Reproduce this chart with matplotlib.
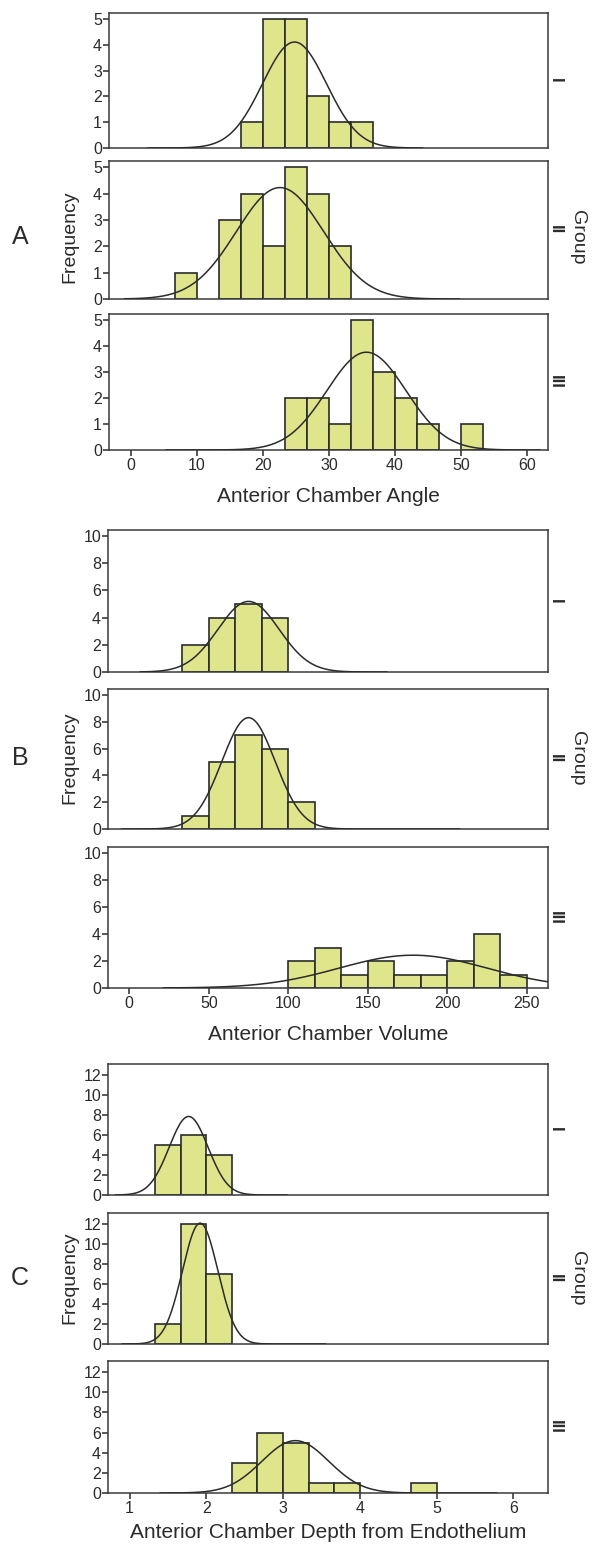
import numpy as np
import matplotlib
matplotlib.use("Agg")
import matplotlib.pyplot as plt

plt.rcParams['font.family'] = ['Liberation Sans', 'DejaVu Sans']

##############################################################################
## data (histogram bins + fitted normal curves)
group_names = ['I', 'II', 'III']

# A: anterior chamber angle, bin width 10/3
angle_bw = 10.0 / 3
angle_start = [50.0 / 3, 20.0 / 3, 70.0 / 3]
angle_counts = [[1, 5, 5, 2, 1, 1],
                [1, 0, 3, 4, 2, 5, 4, 2],
                [2, 2, 1, 5, 3, 2, 1, 0, 1]]
angle_mean = [24.8, 22.6, 35.7]
angle_sd = [4.85, 6.6, 6.0]
angle_curve = [(2.6, 44.2), (-0.9, 49.8), (5.4, 62.0)]

# B: anterior chamber volume, bin width 50/3
vol_bw = 50.0 / 3
vol_start = [100.0 / 3, 100.0 / 3, 100.0]
vol_counts = [[2, 4, 5, 4],
              [1, 5, 7, 6, 2],
              [2, 3, 1, 2, 1, 1, 2, 4, 1]]
vol_mean = [75.0, 75.0, 178.5]
vol_sd = [19.2, 16.8, 46.5]
vol_curve = [(6.9, 162.0), (-4.6, 208.0), (21.6, 275.0)]

# C: anterior chamber depth from endothelium, bin width 1/3
dep_bw = 1.0 / 3
dep_start = [4.0 / 3, 4.0 / 3, 7.0 / 3]
dep_counts = [[5, 6, 4],
              [2, 12, 7],
              [3, 6, 5, 1, 1, 0, 0, 1]]
dep_mean = [1.77, 1.92, 3.16]
dep_sd = [0.254, 0.231, 0.435]
dep_curve = [(0.82, 3.05), (0.905, 3.55), (1.40, 5.78)]

##############################################################################
W, H = 603, 1546
fig = plt.figure(figsize=(W / 100.0, H / 100.0), dpi=100)

barcol = '#dee58b'
ink = '#2b2b2b'


def rect(left, top, right, bottom):
    return [left / W, 1 - bottom / H, (right - left) / W, (bottom - top) / H]


def hist_panel(box, counts, start, bw, mean, sd, crange, xlim, ylim, yticks,
               xticks, numeral):
    ax = fig.add_axes(rect(*box))
    counts = np.asarray(counts, dtype=float)
    edges = start + bw * np.arange(len(counts))
    keep = counts > 0
    ax.bar(edges[keep], counts[keep], width=bw, align='edge', color=barcol,
           edgecolor=ink, linewidth=1.2, zorder=2)
    n = counts.sum()
    xp = np.linspace(crange[0], crange[1], 400)
    yp = n * bw / (sd * np.sqrt(2 * np.pi)) * np.exp(-0.5 * ((xp - mean) / sd) ** 2)
    ax.plot(xp, yp, color=ink, lw=1.1, zorder=3, clip_on=True)
    ax.set_xlim(*xlim)
    ax.set_ylim(*ylim)
    ax.set_yticks(yticks)
    for s in ax.spines.values():
        s.set_color('#3a3a3a')
        s.set_linewidth(1.1)
    ax.tick_params(axis='y', direction='out', length=4, width=1.1,
                   color=ink, labelsize=11.5, labelcolor=ink, pad=1)
    if xticks is None:
        ax.set_xticks([])
    else:
        ax.set_xticks(xticks)
        ax.tick_params(axis='x', direction='out', length=4, width=1.1,
                       color=ink, labelsize=11.5, labelcolor=ink, pad=2)
    # group numeral, rotated like the "Group" label
    yc = 1 - ((box[1] + box[3]) / 2) / H
    fig.text((box[2] + 7) / W, yc, numeral, rotation=270, ha='center',
             va='center', fontsize=12, fontweight='bold', color=ink)
    return ax


##############################################################################
## A
a_boxes = [(109, 13, 548, 148), (109, 161, 548, 299), (109, 314, 548, 450)]
for i in range(3):
    hist_panel(a_boxes[i], angle_counts[i], angle_start[i], angle_bw,
               angle_mean[i], angle_sd[i], angle_curve[i], (-3.3, 63.2),
               (0, 5.24), range(0, 6), [0, 10, 20, 30, 40, 50, 60] if i == 2 else None,
               group_names[i])

## B
b_boxes = [(108, 530, 548, 672), (108, 689, 548, 829), (108, 847, 548, 988)]
for i in range(3):
    hist_panel(b_boxes[i], vol_counts[i], vol_start[i], vol_bw,
               vol_mean[i], vol_sd[i], vol_curve[i], (-13.4, 263.4),
               (0, 10.45), range(0, 11, 2), [0, 50, 100, 150, 200, 250] if i == 2 else None,
               group_names[i])

## C
c_boxes = [(108, 1064, 548, 1195), (108, 1213, 548, 1344), (108, 1361, 548, 1493)]
for i in range(3):
    hist_panel(c_boxes[i], dep_counts[i], dep_start[i], dep_bw,
               dep_mean[i], dep_sd[i], dep_curve[i], (0.72, 6.45),
               (0, 13.1), range(0, 13, 2), [1, 2, 3, 4, 5, 6] if i == 2 else None,
               group_names[i])

##############################################################################
## shared labels
xlabels = [('Anterior Chamber Angle', 496), ('Anterior Chamber Volume', 1035),
           ('Anterior Chamber Depth from Endothelium', 1533)]
for txt, yy in xlabels:
    fig.text(328 / W, 1 - yy / H, txt, ha='center', va='center', fontsize=15,
             color=ink)

for letter, yy in [('A', 237), ('B', 758), ('C', 1278)]:
    fig.text(20 / W, 1 - yy / H, letter, ha='center', va='center', fontsize=18,
             color=ink)
    fig.text(70 / W, 1 - yy / H, 'Frequency', rotation=90, ha='center',
             va='center', fontsize=14, color=ink)
    fig.text(577 / W, 1 - yy / H, 'Group', rotation=270, ha='center',
             va='center', fontsize=14, color=ink)

fig.savefig('out.png', dpi=100)
